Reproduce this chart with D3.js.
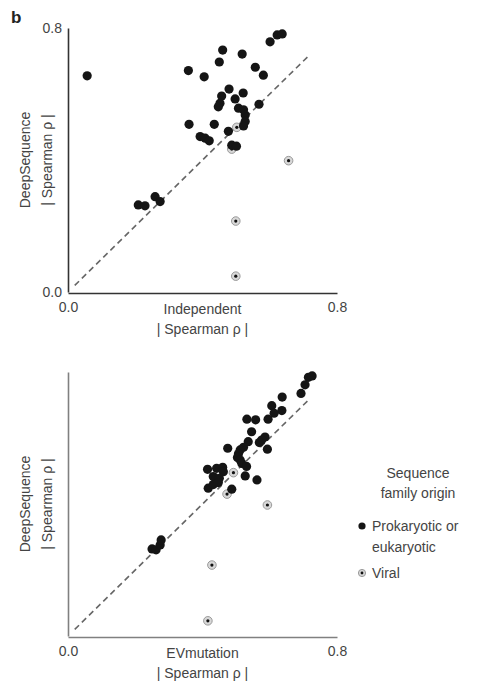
<!DOCTYPE html>
<html><head><meta charset="utf-8">
<script src="https://cdn.jsdelivr.net/npm/d3@7"></script>
<style>body{margin:0;background:#fff}text{font-family:"Liberation Sans",Arial,sans-serif}</style>
</head><body><svg id="c" width="483" height="683"></svg>
<script>
// Panel 1: Independent vs DeepSequence
const topProk = [[0.057,0.655],[0.460,0.733],[0.518,0.721],[0.450,0.697],[0.358,0.671],[0.405,0.652],[0.557,0.681],[0.581,0.657],[0.601,0.758],[0.622,0.779],[0.637,0.782],[0.479,0.615],[0.521,0.603],[0.457,0.594],[0.497,0.585],[0.452,0.572],[0.447,0.561],[0.568,0.569],[0.507,0.557],[0.522,0.552],[0.527,0.536],[0.527,0.517],[0.522,0.503],[0.360,0.508],[0.435,0.508],[0.477,0.487],[0.393,0.471],[0.408,0.466],[0.420,0.458],[0.487,0.445],[0.501,0.442],[0.209,0.264],[0.229,0.261],[0.259,0.289],[0.274,0.274]];
const topViral = [[0.502,0.499],[0.487,0.433],[0.656,0.398],[0.499,0.215],[0.499,0.048]];
// Panel 2: EVmutation vs DeepSequence
const botProk = [[0.715,0.784],[0.726,0.788],[0.705,0.761],[0.693,0.735],[0.637,0.724],[0.606,0.698],[0.636,0.683],[0.613,0.675],[0.595,0.657],[0.532,0.657],[0.558,0.655],[0.546,0.619],[0.586,0.603],[0.576,0.594],[0.569,0.586],[0.593,0.566],[0.536,0.589],[0.522,0.572],[0.512,0.564],[0.507,0.552],[0.504,0.541],[0.512,0.533],[0.517,0.523],[0.475,0.569],[0.531,0.514],[0.527,0.485],[0.562,0.473],[0.415,0.505],[0.442,0.508],[0.460,0.511],[0.462,0.498],[0.432,0.483],[0.450,0.478],[0.417,0.448],[0.432,0.459],[0.447,0.465],[0.487,0.445],[0.250,0.264],[0.262,0.261],[0.274,0.276],[0.277,0.291]];
const botViral = [[0.492,0.495],[0.473,0.430],[0.593,0.397],[0.428,0.215],[0.416,0.046]];
const tickVals = [0, 0.8];
const xTitles = ["Independent", "EVmutation"];
const yTitle = ["DeepSequence", "| Spearman ρ |"];
const legendTitle = ["Sequence", "family origin"];
const legendItems = [["Prokaryotic or", "eukaryotic"], ["Viral"]];

const svg = d3.select("#c");
svg.append("text").attr("x", 11).attr("y", 23).attr("font-size", 17).attr("font-weight", "bold").attr("fill", "#222").text("b");

function panel(top, prok, viral, xTitle, showY, axisColor) {
  const x = d3.scaleLinear().domain([0, 0.8]).range([68, 337]);
  const y = d3.scaleLinear().domain([0, 0.8]).range([top + 264, top]);
  const g = svg.append("g");
  // dashed diagonal
  g.append("line").attr("x1", x(0.02)).attr("y1", y(0.02)).attr("x2", x(0.715)).attr("y2", y(0.715))
    .attr("stroke", "#666").attr("stroke-width", 1.6).attr("stroke-dasharray", "6,4");
  const xa = g.append("g").attr("transform", `translate(0,${y(0) + 1})`)
    .call(d3.axisBottom(x).tickValues(tickVals).tickSize(0).tickPadding(9).tickFormat(d3.format(".1f")));
  const ya = g.append("g").attr("transform", `translate(${x(0)},0)`)
    .call(d3.axisLeft(y).tickValues(showY ? tickVals : []).tickSize(0).tickPadding(6).tickFormat(d3.format(".1f")));
  [xa, ya].forEach(a => {
    a.select(".domain").attr("stroke", axisColor).attr("stroke-width", 1.6);
    a.selectAll("text").attr("font-size", 14).attr("fill", "#444").attr("font-family", '"Liberation Sans",Arial,sans-serif');
  });
  const cx = (x(0) + x(0.8)) / 2;
  g.append("text").attr("x", cx).attr("y", y(0) + 22).attr("text-anchor", "middle").attr("font-size", 14).attr("fill", "#444").text(xTitle);
  g.append("text").attr("x", cx).attr("y", y(0) + 42).attr("text-anchor", "middle").attr("font-size", 14).attr("fill", "#444").text(yTitle[1]);
  const cy = (y(0) + y(0.8)) / 2;
  g.append("text").attr("transform", `translate(30,${cy}) rotate(-90)`).attr("text-anchor", "middle").attr("font-size", 14).attr("fill", "#444").text(yTitle[0]);
  g.append("text").attr("transform", `translate(52,${cy}) rotate(-90)`).attr("text-anchor", "middle").attr("font-size", 14).attr("fill", "#444").text(yTitle[1]);
  // viral points
  viral.forEach(d => {
    g.append("circle").attr("cx", x(d[0])).attr("cy", y(d[1])).attr("r", 4.3).attr("fill", "#d8d8d8").attr("stroke", "#9a9a9a").attr("stroke-width", 1);
    g.append("circle").attr("cx", x(d[0])).attr("cy", y(d[1])).attr("r", 1.6).attr("fill", "#111");
  });
  g.selectAll(null).data(prok).enter().append("circle")
    .attr("cx", d => x(d[0])).attr("cy", d => y(d[1])).attr("r", 4.6).attr("fill", "#151515");
}
panel(28, topProk, topViral, xTitles[0], true, "#333");
panel(372, botProk, botViral, xTitles[1], false, "#808080");

// legend
const lg = svg.append("g");
legendTitle.forEach((t, i) => lg.append("text").attr("x", 418).attr("y", 478 + i * 20).attr("text-anchor", "middle").attr("font-size", 14).attr("fill", "#444").text(t));
lg.append("circle").attr("cx", 362).attr("cy", 526).attr("r", 3.6).attr("fill", "#151515");
lg.append("text").attr("x", 372).attr("y", 531).attr("font-size", 14).attr("fill", "#444").text(legendItems[0][0]);
lg.append("text").attr("x", 372).attr("y", 552).attr("font-size", 14).attr("fill", "#444").text(legendItems[0][1]);
lg.append("circle").attr("cx", 362).attr("cy", 573).attr("r", 3.6).attr("fill", "#d8d8d8").attr("stroke", "#9a9a9a");
lg.append("circle").attr("cx", 362).attr("cy", 573).attr("r", 1.4).attr("fill", "#111");
lg.append("text").attr("x", 372).attr("y", 578).attr("font-size", 14).attr("fill", "#444").text(legendItems[1][0]);
</script></body></html>
